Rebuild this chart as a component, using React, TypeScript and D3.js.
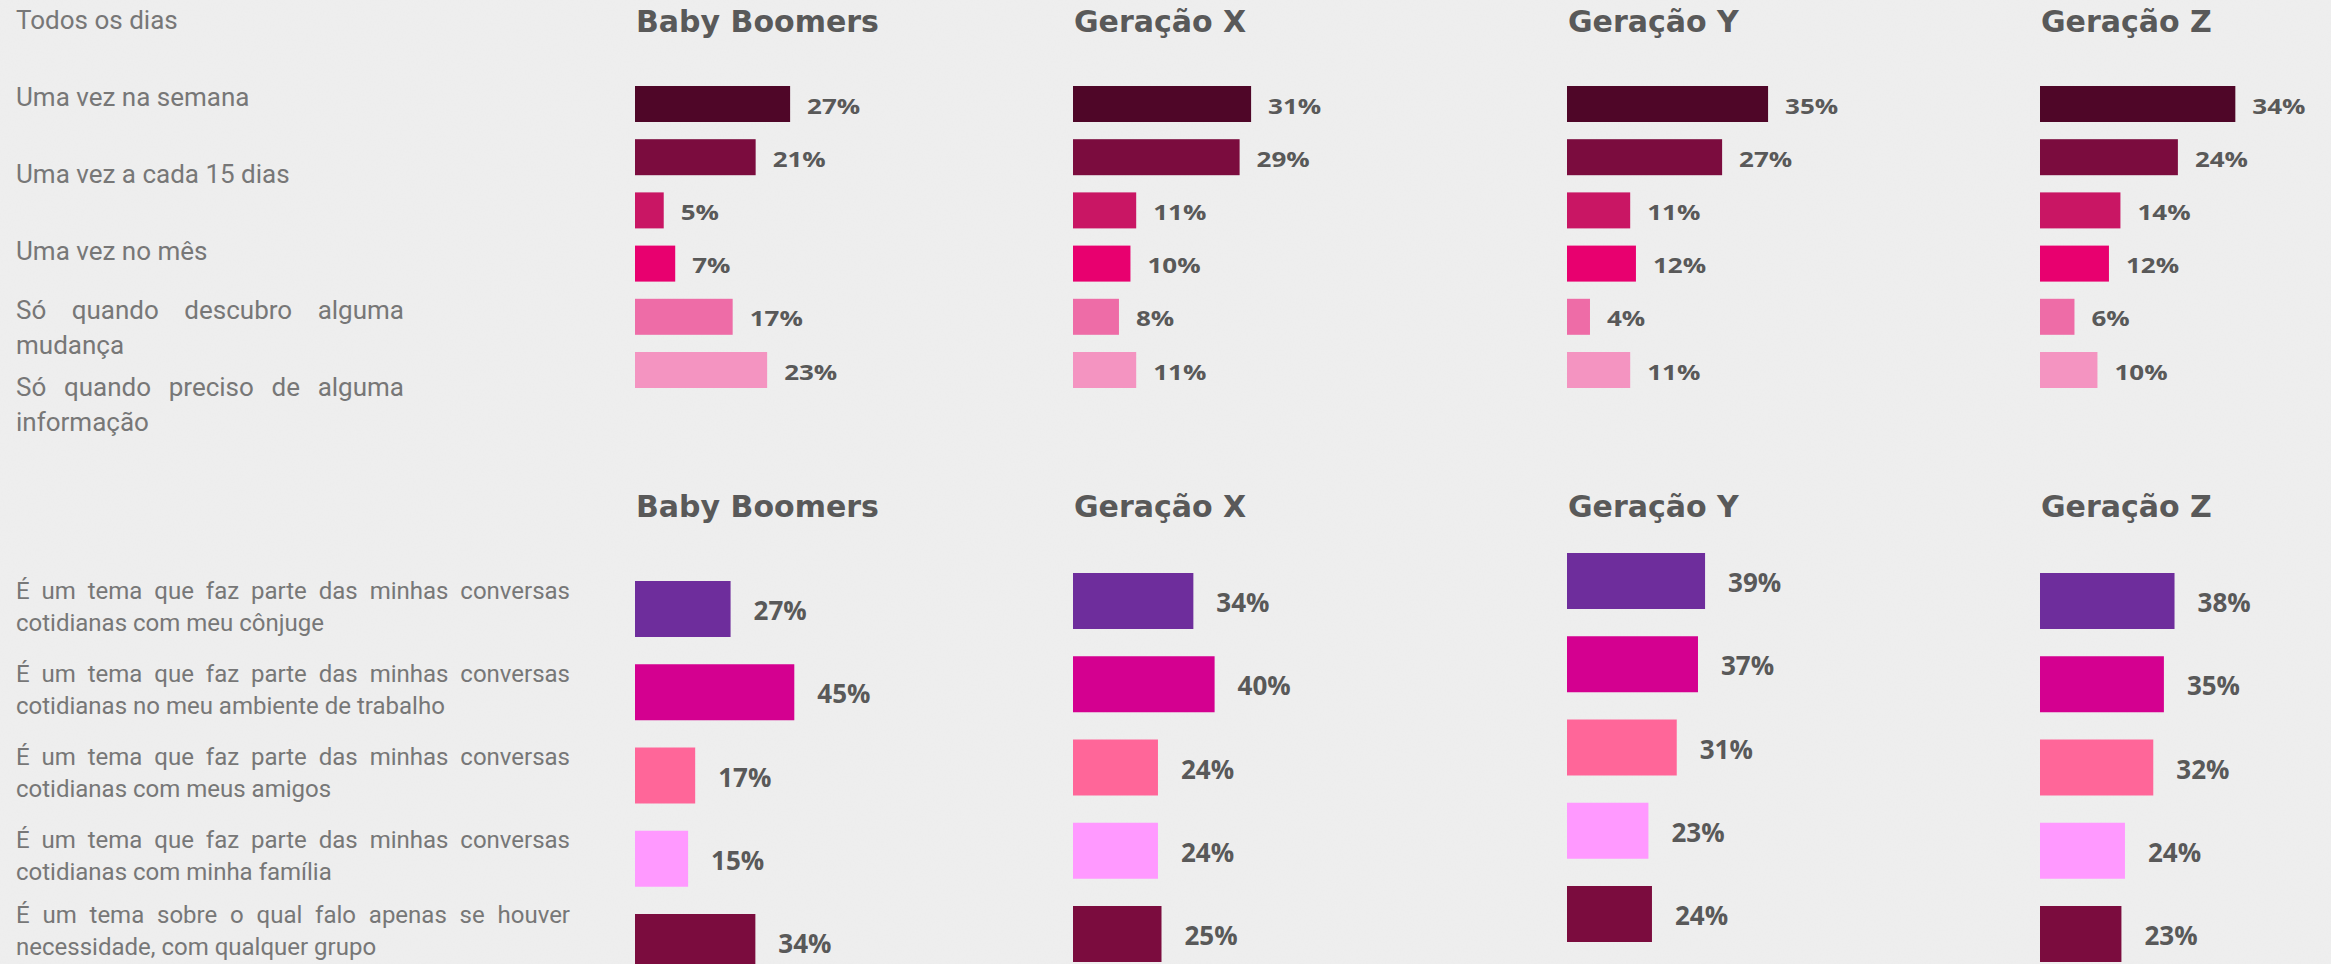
import React, { useEffect, useRef } from 'react';
import * as d3 from 'd3';

// ---------- DATA ----------
const generations = ['Baby Boomers', 'Geração X', 'Geração Y', 'Geração Z'];

const frequencyLabelLines: string[][] = [
  ['Todos os dias'],
  ['Uma vez na semana'],
  ['Uma vez a cada 15 dias'],
  ['Uma vez no mês'],
  ['Só quando descubro alguma', 'mudança'],
  ['Só quando preciso de alguma', 'informação'],
];

const freqBabyBoomers = [27, 21, 5, 7, 17, 23];
const freqGenX = [31, 29, 11, 10, 8, 11];
const freqGenY = [35, 27, 11, 12, 4, 11];
const freqGenZ = [34, 24, 14, 12, 6, 10];
const frequencySeries = [freqBabyBoomers, freqGenX, freqGenY, freqGenZ];

const conversationLabelLines: string[][] = [
  ['É um tema que faz parte das minhas conversas', 'cotidianas com meu cônjuge'],
  ['É um tema que faz parte das minhas conversas', 'cotidianas no meu ambiente de trabalho'],
  ['É um tema que faz parte das minhas conversas', 'cotidianas com meus amigos'],
  ['É um tema que faz parte das minhas conversas', 'cotidianas com minha família'],
  ['É um tema sobre o qual falo apenas se houver', 'necessidade, com qualquer grupo'],
];

const convBabyBoomers = [27, 45, 17, 15, 34];
const convGenX = [34, 40, 24, 24, 25];
const convGenY = [39, 37, 31, 23, 24];
const convGenZ = [38, 35, 32, 24, 23];
const conversationSeries = [convBabyBoomers, convGenX, convGenY, convGenZ];

// ---------- STYLE / LAYOUT ----------
const W = 2331;
const H = 964;
const BG = '#efefef';
const HEADER_COLOR = '#595959';
const VALUE_COLOR = '#595959';
const LABEL_COLOR = '#777777';

const freqColors = ['#4f0628', '#7b0c3e', '#c91664', '#e8006f', '#ee6ca7', '#f494c1'];
const convColors = ['#6e2d9c', '#d40090', '#ff6699', '#ff99ff', '#7b0c3e'];

const panelLeft = [635, 1073, 1567, 2040];
const convPanelTop = [581, 573, 553, 573];
const convLabelBaseline = [599, 682, 765, 848, 923];

const fmt = (v: number) => `${v}%`;

function bandFrom(start: number, step: number, bw: number, n: number) {
  const pi = (step - bw) / step;
  return d3
    .scaleBand<number>()
    .domain(d3.range(n))
    .range([start, start + step * (n - pi)])
    .paddingInner(pi)
    .paddingOuter(0)
    .align(0);
}

export default function App() {
  const ref = useRef<SVGSVGElement>(null);

  // top section scales
  const xTop = d3.scaleLinear().domain([0, 100]).range([0, 574.5]);
  const yTop = bandFrom(86, 53.2, 36, 6);
  // bottom section scales
  const xBot = d3.scaleLinear().domain([0, 100]).range([0, 354]);

  // label rows (top) as a band of centers
  const topLabelCenter = d3.scaleLinear().domain([0, 1]).range([20, 96.9]);

  useEffect(() => {
    const justify = () => {
      if (!ref.current) return;
      d3.select(ref.current)
        .selectAll<SVGTextElement, unknown>('text.justify')
        .each(function () {
          const el = this;
          el.style.wordSpacing = '0px';
          const target = +(el.getAttribute('data-width') || 0);
          const len = el.getComputedTextLength();
          const spaces = ((el.textContent || '').match(/ /g) || []).length;
          if (spaces > 0) el.style.wordSpacing = `${(target - len) / spaces}px`;
        });
    };
    justify();
    if ((document as any).fonts && (document as any).fonts.ready) {
      (document as any).fonts.ready.then(justify);
    }
  }, []);

  return (
    <svg
      ref={ref}
      width={W}
      height={H}
      viewBox={`0 0 ${W} ${H}`}
      style={{ position: 'absolute', left: 0, top: 0, display: 'block', overflow: 'hidden' }}
    >
      <defs>
        <filter id="paper" x="0" y="0" width="100%" height="100%">
          <feTurbulence type="fractalNoise" baseFrequency="0.6" numOctaves="2" seed="3" />
          <feColorMatrix type="matrix" values="0 0 0 0 0.5  0 0 0 0 0.5  0 0 0 0 0.5  0 0 0 0.05 0" />
        </filter>
      </defs>
      <rect x={0} y={0} width={W} height={H} fill={BG} />
      <rect x={0} y={0} width={W} height={H} filter="url(#paper)" />

      {/* Top row labels */}
      <g fontFamily="Roboto, sans-serif" fontSize={26} fill={LABEL_COLOR}>
        {frequencyLabelLines.map((lines, i) => {
          const c = topLabelCenter(i);
          return lines.map((line, k) => {
            const y = c + 9.2 + (k - (lines.length - 1) / 2) * 35;
            const justified = lines.length > 1 && k < lines.length - 1;
            return (
              <text
                key={`tl-${i}-${k}`}
                className={justified ? 'justify' : undefined}
                data-width={justified ? 404 - 16 : undefined}
                x={16}
                y={y}
              >
                {line}
              </text>
            );
          });
        })}
      </g>

      {/* Bottom row labels */}
      <g fontFamily="Roboto, sans-serif" fontSize={24} fill={LABEL_COLOR}>
        {conversationLabelLines.map((lines, i) =>
          lines.map((line, k) => {
            const justified = k < lines.length - 1;
            return (
              <text
                key={`bl-${i}-${k}`}
                className={justified ? 'justify' : undefined}
                data-width={justified ? 570 - 16 : undefined}
                x={16}
                y={convLabelBaseline[i] + k * 32}
              >
                {line}
              </text>
            );
          })
        )}
      </g>

      {/* Top panels */}
      {generations.map((g, p) => {
        const x0 = panelLeft[p];
        return (
          <g key={`top-${g}`}>
            <text
              x={x0 + 1}
              y={32}
              fontFamily="'DejaVu Sans', sans-serif"
              fontWeight={700}
              fontSize={30}
              fill={HEADER_COLOR}
            >
              {g}
            </text>
            {frequencySeries[p].map((v, i) => {
              const y = yTop(i)!;
              const bw = yTop.bandwidth();
              const w = xTop(v);
              const ly = y + bw / 2 + 9.5;
              return (
                <g key={`tb-${p}-${i}`}>
                  <rect x={x0} y={y} width={w} height={bw} fill={freqColors[i]} />
                  <text
                    transform={`translate(${x0 + w + 17},${ly}) scale(1,0.82)`}
                    fontFamily="'Open Sans', sans-serif"
                    fontWeight={700}
                    fontSize={26}
                    fill={VALUE_COLOR}
                  >
                    {fmt(v)}
                  </text>
                </g>
              );
            })}
          </g>
        );
      })}

      {/* Bottom panels */}
      {generations.map((g, p) => {
        const x0 = panelLeft[p];
        const yBot = bandFrom(convPanelTop[p], 83.25, 56, 5);
        return (
          <g key={`bot-${g}`}>
            <text
              x={x0 + 1}
              y={517}
              fontFamily="'DejaVu Sans', sans-serif"
              fontWeight={700}
              fontSize={30}
              fill={HEADER_COLOR}
            >
              {g}
            </text>
            {conversationSeries[p].map((v, i) => {
              const y = yBot(i)!;
              const bw = yBot.bandwidth();
              const w = xBot(v);
              return (
                <g key={`bb-${p}-${i}`}>
                  <rect x={x0} y={y} width={w} height={bw} fill={convColors[i]} />
                  <text
                    x={x0 + w + 23}
                    y={y + bw / 2 + 11}
                    fontFamily="'Open Sans', sans-serif"
                    fontWeight={700}
                    fontSize={26}
                    fill={VALUE_COLOR}
                  >
                    {fmt(v)}
                  </text>
                </g>
              );
            })}
          </g>
        );
      })}
    </svg>
  );
}
